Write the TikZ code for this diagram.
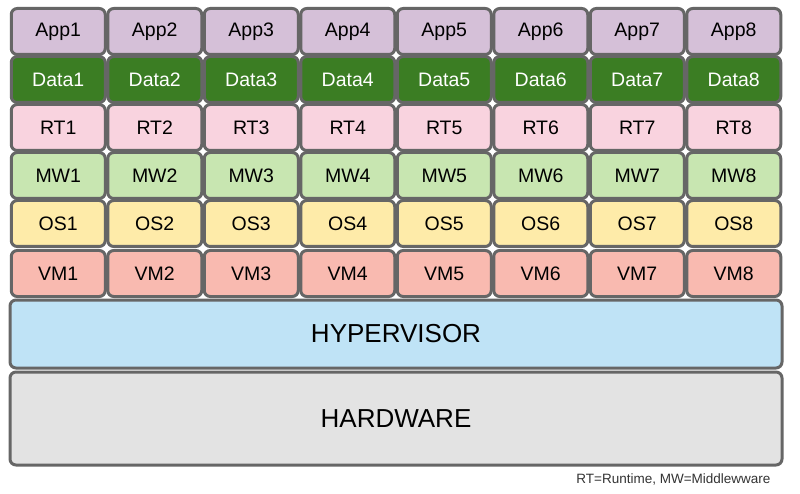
\documentclass[tikz,border=0pt]{standalone}
\usepackage{fontspec}
\setmainfont{Liberation Sans}
\begin{document}
\begin{tikzpicture}[x=1pt,y=-1pt,
  cell/.style={draw=black!60,line width=3pt,rounded corners=6pt,minimum width=94pt,inner sep=0pt,font=\fontsize{19.5}{19.5}\selectfont},
  big/.style={draw=black!60,line width=3pt,rounded corners=6pt,minimum width=772pt,inner sep=0pt,font=\fontsize{26}{26}\selectfont}]
\definecolor{capp}{HTML}{D5C0D8}
\definecolor{cdata}{HTML}{3B7D23}
\definecolor{crt}{HTML}{F9D3DF}
\definecolor{cmw}{HTML}{C8E6B1}
\definecolor{cos}{HTML}{FEEBA9}
\definecolor{cvm}{HTML}{F9BAB0}
\definecolor{chyp}{HTML}{BFE3F6}
\definecolor{chw}{HTML}{E3E3E3}
\useasboundingbox[fill=white] (0,0) rectangle (800,494);
\foreach \i in {1,...,8}{
  \pgfmathsetmacro{\cx}{10+96.5*(\i-1)+48.25}
  \node[cell,fill=capp,minimum height=46pt] (app\i) at (\cx,31.5) {App\i};
  \node[cell,fill=cdata,text=white,minimum height=46pt] (data\i) at (\cx,79.5) {Data\i};
  \node[cell,fill=crt,minimum height=46pt] (rt\i) at (\cx,127.5) {RT\i};
  \node[cell,fill=cmw,minimum height=46pt] (mw\i) at (\cx,175.5) {MW\i};
  \node[cell,fill=cos,minimum height=46pt] (os\i) at (\cx,223.5) {OS\i};
  \node[cell,fill=cvm,minimum height=46pt] (vm\i) at (\cx,273.5) {VM\i};
}
\node[big,fill=chyp,minimum height=68pt] (hyp) at (396,334) {HYPERVISOR};
\node[big,fill=chw,minimum height=93pt] (hw) at (396,418.5) {HARDWARE};
\node[anchor=east,font=\fontsize{13.5}{13.5}\selectfont,text=black!80] (cap) at (774,479) {RT=Runtime, MW=Middlewware};
\end{tikzpicture}
\end{document}
